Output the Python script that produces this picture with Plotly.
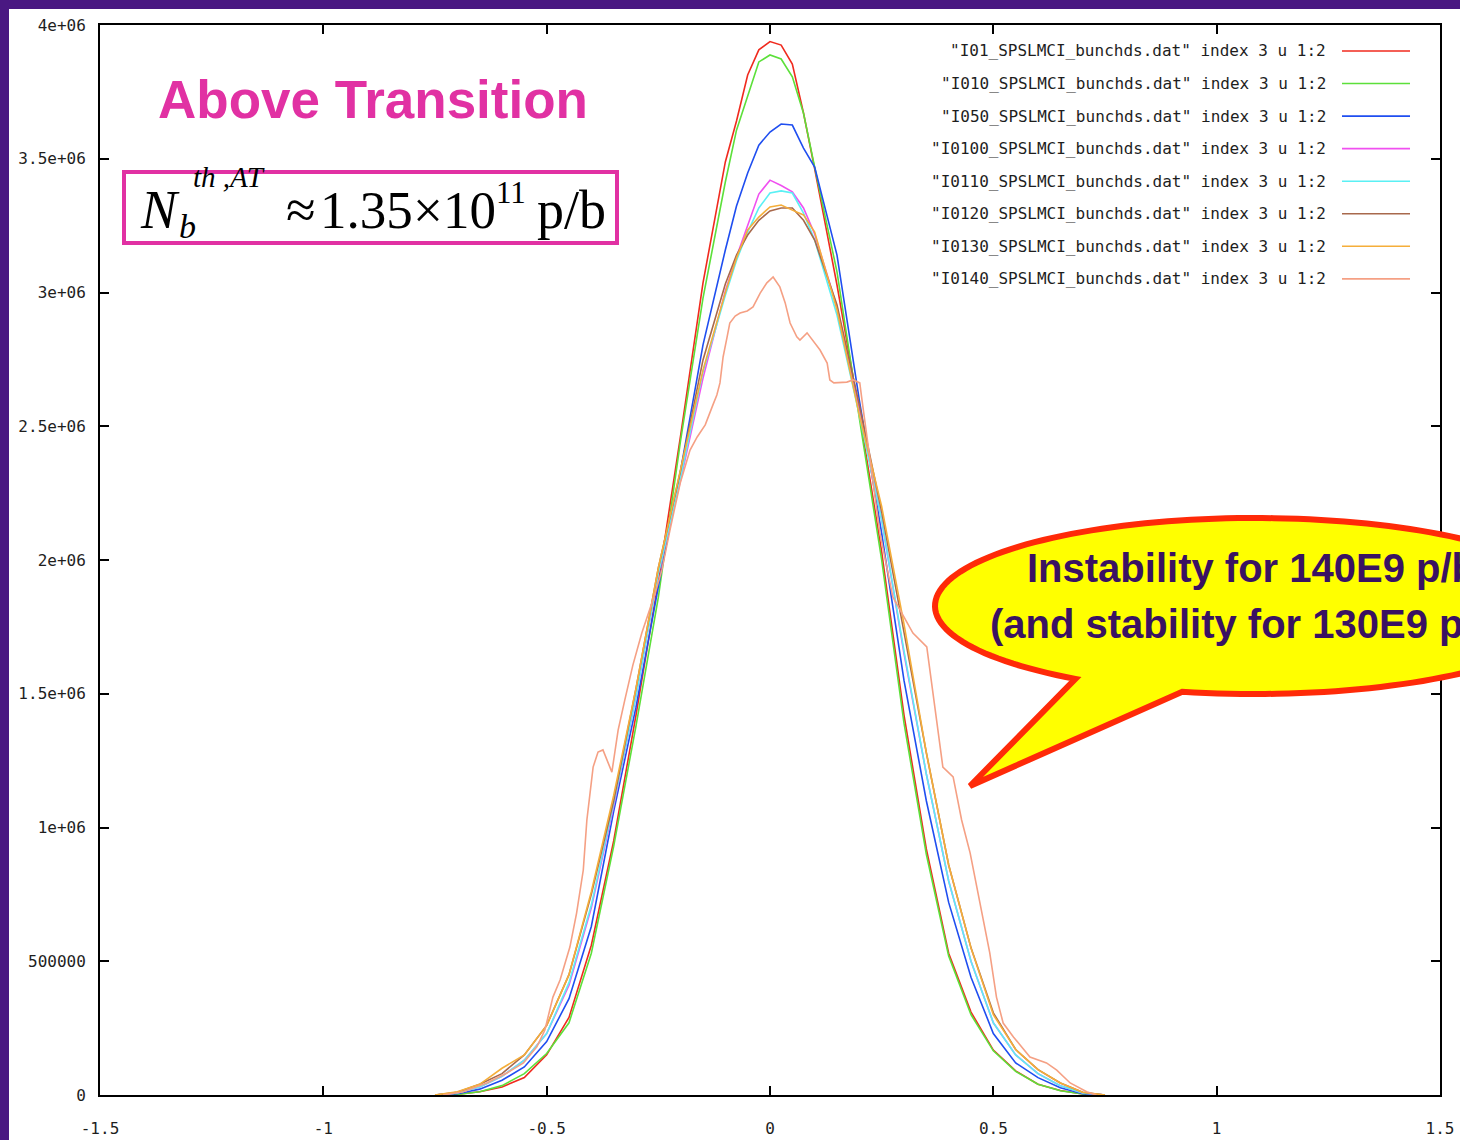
import numpy as np
import plotly.graph_objects as go

# ---------------- data (y in units of 1e6) ----------------
X_GRID = [-0.75, -0.70, -0.65, -0.60, -0.55, -0.50, -0.45, -0.40, -0.35, -0.30,
          -0.25, -0.20, -0.15, -0.10, -0.075, -0.05, -0.025, 0.0, 0.025, 0.05,
          0.075, 0.10, 0.15, 0.20, 0.25, 0.30, 0.35, 0.40, 0.45, 0.50,
          0.55, 0.60, 0.65, 0.70, 0.75]

Y_I01 = [0, 0.003, 0.012, 0.03, 0.065, 0.15, 0.29, 0.56, 0.95, 1.42,
         1.92, 2.467, 3.036, 3.488, 3.641, 3.813, 3.907, 3.938, 3.925, 3.854,
         3.671, 3.462, 3.028, 2.55, 2.03, 1.42, 0.92, 0.53, 0.31, 0.168,
         0.09, 0.04, 0.017, 0.004, 0]
Y_I010 = [0, 0.002, 0.012, 0.035, 0.08, 0.155, 0.27, 0.53, 0.93, 1.38,
          1.86, 2.449, 2.979, 3.413, 3.607, 3.738, 3.862, 3.888, 3.873, 3.806,
          3.67, 3.469, 3.077, 2.53, 2.0, 1.39, 0.9, 0.52, 0.3, 0.165,
          0.088, 0.04, 0.016, 0.004, 0]
Y_I050 = [0, 0.005, 0.022, 0.055, 0.105, 0.2, 0.36, 0.63, 1.06, 1.45,
          1.9, 2.336, 2.804, 3.159, 3.323, 3.447, 3.551, 3.6, 3.63, 3.626,
          3.54, 3.469, 3.14, 2.598, 2.1, 1.55, 1.1, 0.72, 0.44, 0.23,
          0.12, 0.065, 0.027, 0.005, 0]
Y_I0100 = [0, 0.008, 0.03, 0.07, 0.13, 0.23, 0.41, 0.70, 1.08, 1.49,
           1.95, 2.30, 2.68, 3.006, 3.133, 3.252, 3.368, 3.42, 3.40, 3.376,
           3.316, 3.219, 2.946, 2.561, 2.15, 1.65, 1.2, 0.8, 0.5, 0.27,
           0.15, 0.08, 0.035, 0.008, 0]
Y_I0110 = [0, 0.008, 0.03, 0.07, 0.13, 0.23, 0.42, 0.71, 1.09, 1.49,
           1.95, 2.31, 2.703, 2.99, 3.12, 3.226, 3.316, 3.372, 3.38, 3.372,
           3.297, 3.196, 2.916, 2.542, 2.15, 1.66, 1.2, 0.8, 0.5, 0.27,
           0.15, 0.08, 0.035, 0.008, 0]
Y_I0120 = [0, 0.01, 0.04, 0.08, 0.15, 0.26, 0.45, 0.75, 1.1, 1.52,
           1.97, 2.336, 2.748, 3.032, 3.14, 3.215, 3.27, 3.305, 3.316, 3.316,
           3.27, 3.196, 2.953, 2.58, 2.18, 1.73, 1.28, 0.86, 0.55, 0.307,
           0.17, 0.095, 0.045, 0.01, 0]
Y_I0130 = [0, 0.012, 0.04, 0.10, 0.15, 0.26, 0.45, 0.76, 1.12, 1.52,
           1.97, 2.336, 2.71, 3.0, 3.129, 3.234, 3.282, 3.32, 3.327, 3.308,
           3.29, 3.226, 2.935, 2.542, 2.2, 1.76, 1.28, 0.86, 0.55, 0.3,
           0.17, 0.095, 0.045, 0.01, 0]

X_I0140 = [-0.732, -0.687, -0.634, -0.589, -0.552, -0.522, -0.504, -0.486, -0.47, -0.448,
           -0.433, -0.418, -0.41, -0.396, -0.385, -0.374, -0.354, -0.34, -0.325, -0.307,
           -0.287, -0.257, -0.242, -0.224, -0.201, -0.179, -0.163, -0.145, -0.128, -0.119,
           -0.112, -0.105, -0.096, -0.09, -0.078, -0.067, -0.051, -0.038, -0.022, -0.007,
           0.007, 0.022, 0.034, 0.045, 0.06, 0.067, 0.083, 0.096, 0.112, 0.128,
           0.134, 0.143, 0.172, 0.186, 0.201, 0.206, 0.246, 0.275, 0.291, 0.32,
           0.351, 0.387, 0.41, 0.429, 0.448, 0.47, 0.492, 0.507, 0.522, 0.545,
           0.582, 0.619, 0.642, 0.672, 0.709, 0.731]
Y_I0140 = [0, 0.012, 0.045, 0.082, 0.12, 0.18, 0.243, 0.366, 0.43, 0.553,
           0.68, 0.841, 1.028, 1.226, 1.282, 1.29, 1.207, 1.364, 1.477, 1.607,
           1.727, 1.877, 1.963, 2.112, 2.288, 2.411, 2.46, 2.505, 2.579, 2.617,
           2.662, 2.759, 2.834, 2.886, 2.912, 2.923, 2.931, 2.946, 2.998, 3.036,
           3.058, 3.021, 2.961, 2.886, 2.834, 2.822, 2.849, 2.822, 2.785, 2.736,
           2.673, 2.662, 2.665, 2.673, 2.662, 2.598, 2.101, 1.862, 1.813, 1.727,
           1.675, 1.226, 1.189, 1.028, 0.905, 0.718, 0.531, 0.366, 0.269, 0.217,
           0.142, 0.12, 0.093, 0.045, 0.012, 0]

SERIES_NAMES = ["I01", "I010", "I050", "I0100", "I0110", "I0120", "I0130", "I0140"]
SERIES_X = [X_GRID] * 7 + [X_I0140]
SERIES_Y = [Y_I01, Y_I010, Y_I050, Y_I0100, Y_I0110, Y_I0120, Y_I0130, Y_I0140]
SERIES_COLORS = ["#f02a1e", "#5ce03a", "#1f4ef0", "#f050f0", "#5af0f4",
                 "#a8694c", "#f5ae3a", "#f5a084"]

X_TICKS = [-1.5, -1, -0.5, 0, 0.5, 1, 1.5]
X_TICKTEXT = ["-1.5", "-1", "-0.5", "0", "0.5", "1", "1.5"]
Y_TICKS = [0, 0.5, 1, 1.5, 2, 2.5, 3, 3.5, 4]
Y_TICKTEXT = ["0", "500000", "1e+06", "1.5e+06", "2e+06", "2.5e+06",
              "3e+06", "3.5e+06", "4e+06"]

# ---------------- layout geometry ----------------
W, H = 1460, 1140
ML, MR, MT, MB = 100, 20, 25, 45
PW, PH = W - ML - MR, H - MT - MB


def fx(px):
    return (px - ML) / PW


def fy(py):
    return (H - MB - py) / PH


MAGENTA = "#e131a3"
MONO = "DejaVu Sans Mono"
SERIF = "Liberation Serif, Times New Roman, serif"
SANS = "Liberation Sans, Arial, sans-serif"

fig = go.Figure()
for name, xs, ys, col in zip(SERIES_NAMES, SERIES_X, SERIES_Y, SERIES_COLORS):
    fig.add_trace(go.Scatter(x=xs, y=ys, mode="lines", name=name,
                             line=dict(color=col, width=1.6),
                             showlegend=False, hoverinfo="skip"))

shapes = []
annotations = []

# white slide area (purple frame around it)
shapes.append(dict(type="rect", xref="paper", yref="paper", layer="below",
                   x0=fx(9), x1=fx(W + 20), y0=fy(H + 20), y1=fy(9),
                   fillcolor="white", line=dict(width=0)))

# gnuplot-style legend: text right aligned, sample line on the right
for i, (name, col) in enumerate(zip(SERIES_NAMES, SERIES_COLORS)):
    py = 51.0 + 32.55 * i
    annotations.append(dict(xref="paper", yref="paper", x=fx(1328), y=fy(py),
                            xanchor="right", yanchor="middle", showarrow=False,
                            text=f'"{name}_SPSLMCI_bunchds.dat" index 3 u 1:2',
                            font=dict(family=MONO, size=16, color="#1e1e1e")))
    shapes.append(dict(type="line", xref="paper", yref="paper",
                       x0=fx(1342), x1=fx(1410), y0=fy(py), y1=fy(py),
                       line=dict(color=col, width=1.6)))

# title
annotations.append(dict(xref="paper", yref="paper", x=fx(373), y=fy(100),
                        xanchor="center", yanchor="middle", showarrow=False,
                        text="<b>Above Transition</b>",
                        font=dict(family=SANS, size=53, color=MAGENTA)))

# formula box
shapes.append(dict(type="rect", xref="paper", yref="paper",
                   x0=fx(124), x1=fx(617), y0=fy(243), y1=fy(172),
                   fillcolor="white", line=dict(color=MAGENTA, width=4)))


def formula(text, left, baseline, size):
    annotations.append(dict(xref="paper", yref="paper", x=fx(left),
                            y=fy(baseline - 0.3375 * size),
                            xanchor="left", yanchor="middle", showarrow=False,
                            text=text, borderpad=0,
                            font=dict(family=SERIF, size=size, color="black")))


formula("<i>N</i>", 139, 228, 54)
formula("<i>th ,AT</i>", 192, 187, 29)
formula("<i>b</i>", 178, 238, 34)
formula("\u2248", 285, 228, 54)
formula("1.35", 319, 228, 53)
formula("\u00d7", 412, 228, 53)
formula("10", 442, 228, 53)
formula("11", 495, 203, 31)
formula("p/b", 536, 228, 54)

# speech-bubble callout
cx, cy, rx, ry = 1255.0, 606.0, 320.0, 88.0
th1 = np.degrees(np.arctan2((679 - cy) / ry, (1075 - cx) / rx))
th2 = np.degrees(np.arctan2((692 - cy) / ry, (1182 - cx) / rx)) + 360
angles = np.radians(np.linspace(th1, th2, 160))
pts = [(cx + rx * np.cos(a), cy + ry * np.sin(a)) for a in angles]
pts.append((970.0, 786.0))
path = "M " + " L ".join(f"{fx(px):.5f},{fy(py):.5f}" for px, py in pts) + " Z"
shapes.append(dict(type="path", xref="paper", yref="paper", path=path,
                   fillcolor="#ffff00", line=dict(color="#ff2a08", width=6),
                   layer="above"))

CALLOUT_COLOR = "#3a1262"
annotations.append(dict(xref="paper", yref="paper", x=fx(1251), y=fy(568),
                        xanchor="center", yanchor="middle", showarrow=False,
                        text="<b>Instability for 140E9 p/b</b>",
                        font=dict(family=SANS, size=40, color=CALLOUT_COLOR)))
annotations.append(dict(xref="paper", yref="paper", x=fx(1251), y=fy(624),
                        xanchor="center", yanchor="middle", showarrow=False,
                        text="<b>(and stability for 130E9 p/b)</b>",
                        font=dict(family=SANS, size=40, color=CALLOUT_COLOR)))

axis_common = dict(showline=True, linecolor="black", linewidth=2, mirror="allticks",
                   ticks="inside", ticklen=9, tickwidth=2, tickcolor="black",
                   showgrid=False, zeroline=False, automargin=False,
                   tickfont=dict(family=MONO, size=16, color="#1e1e1e"))

fig.update_layout(
    width=W, height=H,
    margin=dict(l=ML, r=MR, t=MT, b=MB, pad=0, autoexpand=False),
    paper_bgcolor="#4a1882",
    plot_bgcolor="white",
    xaxis=dict(range=[-1.5, 1.5], tickmode="array", tickvals=X_TICKS,
               ticktext=X_TICKTEXT, ticklabelstandoff=18, **axis_common),
    yaxis=dict(range=[0, 4], tickmode="array", tickvals=Y_TICKS,
               ticktext=Y_TICKTEXT, ticklabelstandoff=9, **axis_common),
    shapes=shapes,
    annotations=annotations,
    showlegend=False,
)

fig.write_html("out.html")
